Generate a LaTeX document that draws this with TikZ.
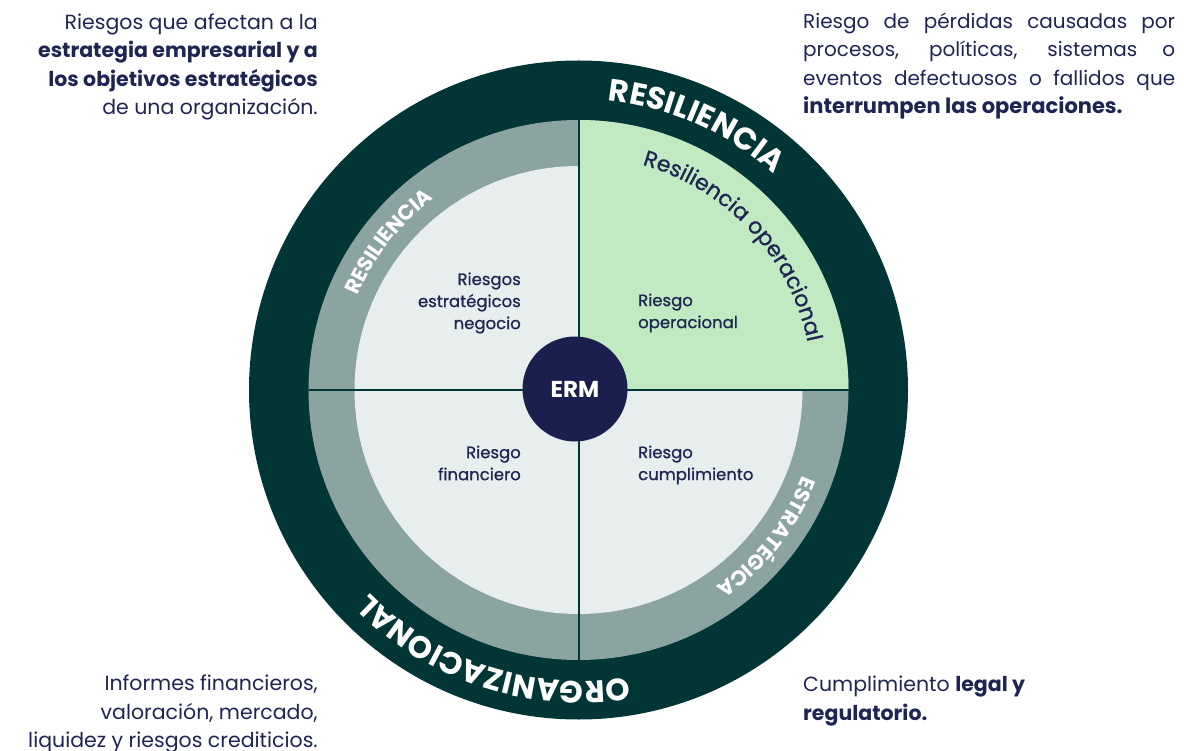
\documentclass[tikz,border=0pt]{standalone}
\usepackage{fontspec}
\setmainfont{Poppins}
\newfontface\medio{Poppins}[FakeBold=0.8]
\usetikzlibrary{decorations.text}

\definecolor{tealOscuro}{HTML}{013536}
\definecolor{grisAnillo}{HTML}{8BA3A1}
\definecolor{grisClaro}{HTML}{E8EEEE}
\definecolor{verdeClaro}{HTML}{C1E9C2}
\definecolor{azulNoche}{HTML}{1B1F4D}
\definecolor{textoAzul}{HTML}{1F2552}

\hyphenpenalty=10000
\exhyphenpenalty=10000

% formatos del texto curvo
\newcommand\fmtExterior{\bfseries\color{white}\fontsize{31}{31}\selectfont}
\newcommand\fmtInterior{\bfseries\color{white}\fontsize{21}{21}\selectfont}
\newcommand\fmtVerde{\medio\color{textoAzul}\fontsize{22}{22}\selectfont}

\tikzset{
  parrafo/.style={inner sep=0pt, text=textoAzul, font=\fontsize{20.5}{28.5}\selectfont},
  cuadrante/.style={inner sep=0pt, text=textoAzul, font=\medio\fontsize{16.5}{22}\selectfont},
  arcotexto/.style={decorate, decoration={text along path, text align=center, text={#1}}},
}

\begin{document}
\begin{tikzpicture}[x=1pt,y=1pt]
\useasboundingbox (0,0) rectangle (1184,-751);
\coordinate (c) at (578.5,-390);

%Shape: Circle [anillos]
\fill[tealOscuro] (c) circle[radius=329.5];
\fill[grisAnillo] (c) circle[radius=270];
\fill[grisClaro] (c) circle[radius=224];
%Shape: cuadrante verde
\fill[verdeClaro] (c) -- ++(0,270) arc[start angle=90, end angle=0, radius=270] -- cycle;

%Straight Lines [ejes]
\coordinate (izq) at ([xshift=-270pt]c);
\coordinate (der) at ([xshift=270pt]c);
\coordinate (arriba) at ([yshift=270pt]c);
\coordinate (abajo) at ([yshift=-270pt]c);
\draw[tealOscuro, line width=2pt] (izq) -- (der);
\draw[tealOscuro, line width=2pt] (arriba) -- (abajo);

% centro
\node[circle, fill=azulNoche, minimum size=105pt, inner sep=0pt, text=white,
  font=\bfseries\fontsize{23}{23}\selectfont] (erm) at (575,-389) {ERM};

% Text Node [texto curvo]
\begin{scope}[shift={(c)}]
\path[arcotexto={|\fmtExterior|RESILIENCIA}] (111:291) arc[start angle=111, end angle=21, radius=291];
\path[arcotexto={|\fmtExterior|ORGANIZACIONAL}] (-63:291) arc[start angle=-63, end angle=-153, radius=291];
\path[arcotexto={|\fmtInterior|RESILIENCIA}] (187:240) arc[start angle=187, end angle=97, radius=240];
\path[arcotexto={|\fmtInterior|ESTRATÉGICA}] (7:240) arc[start angle=7, end angle=-83, radius=240];
\path[arcotexto={|\fmtVerde|Resiliencia operacional}] (88:234) arc[start angle=88, end angle=-2, radius=234];
\end{scope}

% Text Node [cuadrantes]
\node[cuadrante, anchor=east, align=right] (negocio) at (521,-303) {Riesgos\\estratégicos\\negocio};
\node[cuadrante, anchor=west, align=left] (operacional) at (638,-313) {Riesgo\\operacional};
\node[cuadrante, anchor=east, align=right] (finanzas) at (521,-463) {Riesgo\\financiero};
\node[cuadrante, anchor=west, align=left] (cumplimiento) at (638,-465) {Riesgo\\cumplimiento};

% Text Node [notas]
\node[parrafo, anchor=east, align=right] (estrategia) at (318,-67) {Riesgos que afectan a la\\\textbf{estrategia empresarial y a}\\\textbf{los objetivos estratégicos}\\de una organización.};
\node[parrafo, anchor=west, text width=372pt, align=justify, font=\fontsize{20}{28.5}\selectfont] (operaciones) at (803,-66) {Riesgo de pérdidas causadas por\linebreak procesos, políticas, sistemas o\linebreak eventos defectuosos o fallidos que\linebreak {\fontsize{21}{28.5}\selectfont\bfseries interrumpen las operaciones.}};
\node[parrafo, anchor=east, align=right] (informes) at (318,-714) {Informes financieros,\\valoración, mercado,\\liquidez y riesgos crediticios.};
\node[parrafo, anchor=west, align=left] (legal) at (803,-701) {Cumplimiento \textbf{legal y}\\\textbf{regulatorio.}};
\end{tikzpicture}
\end{document}
